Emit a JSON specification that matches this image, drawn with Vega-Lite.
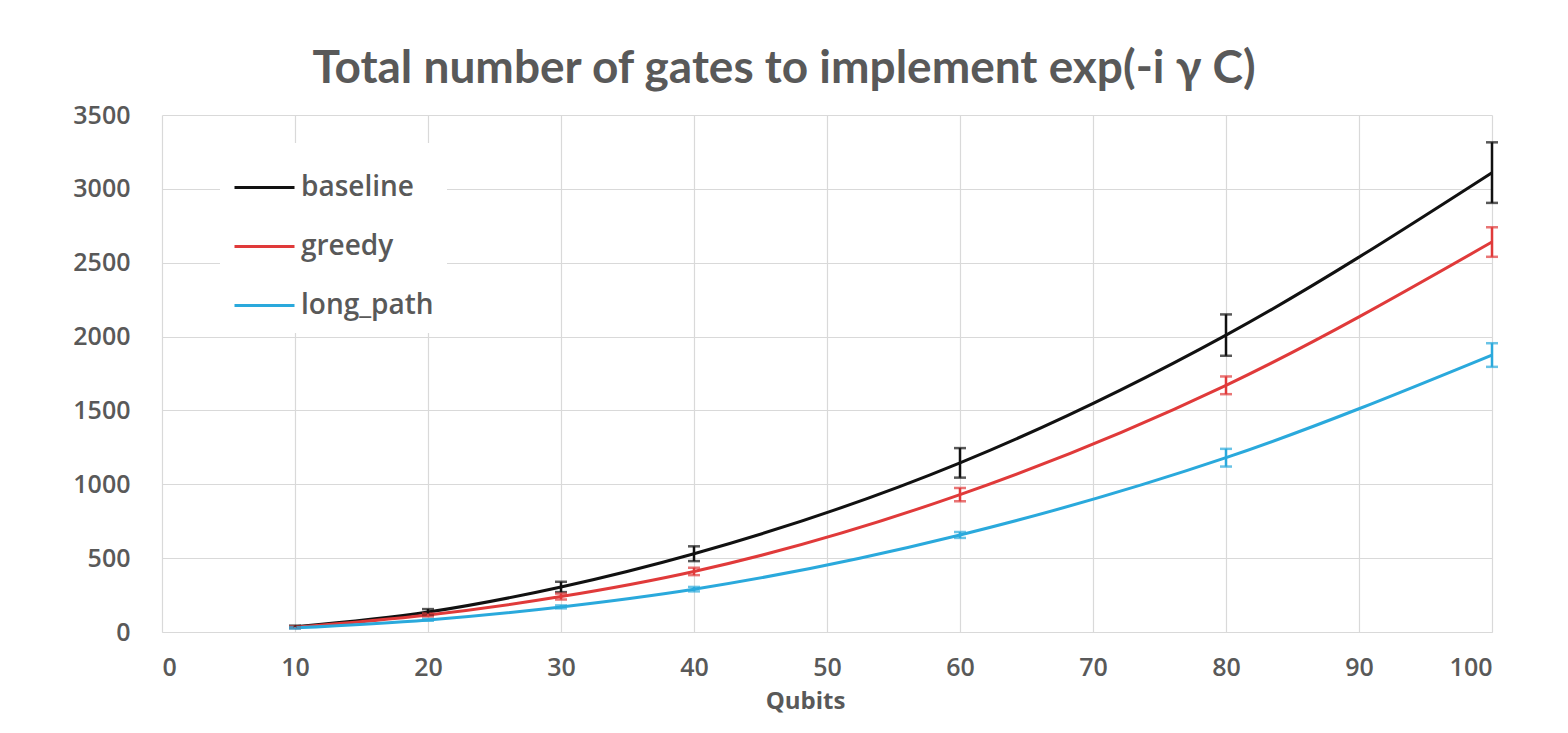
{
  "$schema": "https://vega.github.io/schema/vega-lite/v6.json",
  "autosize": "none",
  "width": 1330,
  "height": 517,
  "padding": {"left": 162, "top": 115, "right": 76, "bottom": 101},
  "background": "white",
  "title": {
    "text": "Total number of gates to implement exp(-i γ C)",
    "font": "Lato",
    "fontSize": 46,
    "fontWeight": "bold",
    "color": "#595959",
    "anchor": "middle",
    "frame": "group",
    "baseline": "alphabetic",
    "offset": -26,
    "dx": -43
  },
  "config": {
    "view": {"stroke": null},
    "axis": {
      "gridColor": "#d9d9d9",
      "gridWidth": 1.2,
      "ticks": false,
      "labelFont": "Open Sans",
      "labelFontSize": 25,
      "labelFontWeight": 600,
      "labelColor": "#595959",
      "titleFont": "Open Sans",
      "titleFontSize": 24,
      "titleFontWeight": "bold",
      "titleColor": "#595959"
    },
    "legend": {
      "symbolType": "stroke",
      "labelFont": "Open Sans",
      "labelFontSize": 28,
      "labelFontWeight": 600,
      "labelColor": "#595959"
    }
  },
  "data": {
    "values": [
      {"series": "baseline", "qubits": 10, "gates": 35, "lo": 27, "hi": 43},
      {"series": "baseline", "qubits": 20, "gates": 135, "lo": 115, "hi": 155},
      {"series": "baseline", "qubits": 30, "gates": 305, "lo": 270, "hi": 340},
      {"series": "baseline", "qubits": 40, "gates": 530, "lo": 480, "hi": 580},
      {"series": "baseline", "qubits": 60, "gates": 1145, "lo": 1045, "hi": 1245},
      {"series": "baseline", "qubits": 80, "gates": 2010, "lo": 1870, "hi": 2150},
      {"series": "baseline", "qubits": 100, "gates": 3110, "lo": 2905, "hi": 3315},
      {"series": "greedy", "qubits": 10, "gates": 32, "lo": 27, "hi": 37},
      {"series": "greedy", "qubits": 20, "gates": 115, "lo": 105, "hi": 125},
      {"series": "greedy", "qubits": 30, "gates": 240, "lo": 220, "hi": 260},
      {"series": "greedy", "qubits": 40, "gates": 410, "lo": 385, "hi": 435},
      {"series": "greedy", "qubits": 60, "gates": 930, "lo": 885, "hi": 975},
      {"series": "greedy", "qubits": 80, "gates": 1670, "lo": 1610, "hi": 1730},
      {"series": "greedy", "qubits": 100, "gates": 2640, "lo": 2540, "hi": 2740},
      {"series": "long_path", "qubits": 10, "gates": 28, "lo": 24, "hi": 32},
      {"series": "long_path", "qubits": 20, "gates": 82, "lo": 76, "hi": 88},
      {"series": "long_path", "qubits": 30, "gates": 170, "lo": 160, "hi": 180},
      {"series": "long_path", "qubits": 40, "gates": 290, "lo": 275, "hi": 305},
      {"series": "long_path", "qubits": 60, "gates": 657, "lo": 637, "hi": 677},
      {"series": "long_path", "qubits": 80, "gates": 1180, "lo": 1120, "hi": 1240},
      {"series": "long_path", "qubits": 100, "gates": 1875, "lo": 1795, "hi": 1955}
    ]
  },
  "layer": [
    {
      "mark": {"type": "line", "interpolate": "monotone", "strokeWidth": 3},
      "encoding": {
        "x": {
          "field": "qubits", "type": "quantitative", "title": "Qubits",
          "scale": {"domain": [0, 100], "nice": false},
          "axis": {"values": [0, 10, 20, 30, 40, 50, 60, 70, 80, 90, 100], "labelPadding": 23, "titlePadding": 9, "titleX": 643, "domainColor": "#d9d9d9", "domainWidth": 1.2}
        },
        "y": {
          "field": "gates", "type": "quantitative", "title": null,
          "scale": {"domain": [0, 3500], "nice": false},
          "axis": {"values": [0, 500, 1000, 1500, 2000, 2500, 3000, 3500], "format": "d", "labelPadding": 32, "domain": false}
        },
        "color": {
          "field": "series", "type": "nominal",
          "scale": {"domain": ["baseline", "greedy", "long_path"], "range": ["#111111", "#e03a3a", "#2aa9dc"]},
          "legend": {
            "title": null,
            "orient": "none",
            "legendX": 58,
            "legendY": 28,
            "fillColor": "white",
            "padding": 13,
            "symbolSize": 3600,
            "symbolStrokeWidth": 3,
            "labelOffset": 5,
            "rowPadding": 13
          }
        }
      }
    },
    {
      "mark": {"type": "errorbar", "ticks": {"size": 12}, "thickness": 2.5},
      "encoding": {
        "x": {"field": "qubits", "type": "quantitative"},
        "y": {"field": "lo", "type": "quantitative"},
        "y2": {"field": "hi"},
        "color": {"field": "series", "type": "nominal", "legend": null}
      }
    }
  ]
}
